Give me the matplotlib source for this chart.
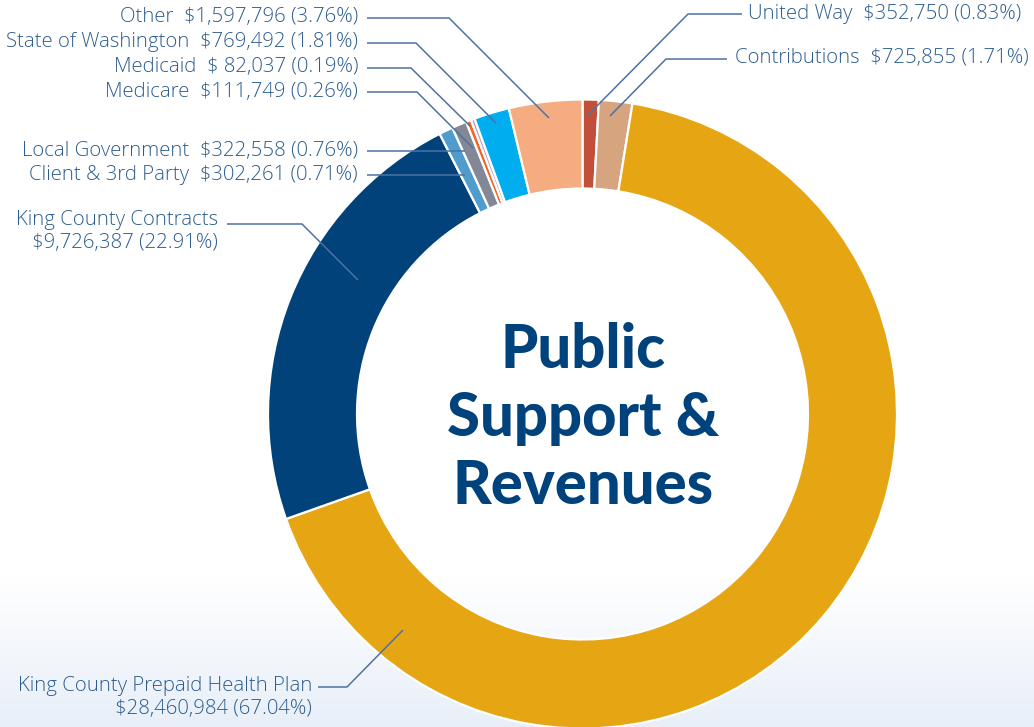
import matplotlib
matplotlib.use("Agg")
import matplotlib.pyplot as plt
import numpy as np
from matplotlib.colors import LinearSegmentedColormap

# ---- data ----
categories = ["United Way", "Contributions", "King County Prepaid Health Plan",
              "King County Contracts", "Client & 3rd Party", "Local Government",
              "Medicare", "Medicaid", "State of Washington", "Other"]
amounts = [352750, 725855, 28460984, 9726387, 302261, 322558,
           111749, 82037, 769492, 1597796]
amount_labels = ["$352,750", "$725,855", "$28,460,984", "$9,726,387", "$302,261",
                 "$322,558", "$111,749", "$ 82,037", "$769,492", "$1,597,796"]
pct_labels = ["0.83%", "1.71%", "67.04%", "22.91%", "0.71%", "0.76%",
              "0.26%", "0.19%", "1.81%", "3.76%"]
colors = ["#c24f3a", "#d6a47e", "#e6a614", "#004279", "#4f9ccd", "#828896",
          "#f26522", "#c49ac6", "#00adee", "#f4ac80"]

W, H = 1034, 727
fig = plt.figure(figsize=(W / 100, H / 100), dpi=100)
ax = fig.add_axes([0, 0, 1, 1])
ax.set_xlim(0, W)
ax.set_ylim(0, H)
ax.axis("off")

def Y(y):
    return H - y

# background gradient (white -> light blue at bottom)
ys = np.arange(H)
t = np.clip((ys - 575) / (H - 575), 0, 1)
cmap = LinearSegmentedColormap.from_list("bg", ["#ffffff", "#e8eff8"])
ax.imshow(cmap(t)[:, None, :3] * np.ones((1, 2, 1)), extent=(0, W, 0, H),
          origin="upper", aspect="auto", zorder=0)

cx, cy, R = 582.5, 414, 314.5
ax.pie(amounts, colors=colors, startangle=90, counterclock=False,
       center=(cx, Y(cy)), radius=R, frame=True,
       wedgeprops=dict(width=89, edgecolor="white", linewidth=1.6))
ax.set_xlim(0, W)
ax.set_ylim(0, H)
ax.set_aspect("equal")
ax.axis("off")

txt_color = "#2c5d90"
line_color = "#4d72a3"
font = "Open Sans"
fs = 14.7
fw = "light"

def leader(pts):
    xs = [p[0] for p in pts]
    yy = [Y(p[1]) for p in pts]
    ax.plot(xs, yy, color=line_color, lw=1.1, solid_capstyle="butt", zorder=5)

def lbl(i):
    return f"{categories[i]}  {amount_labels[i]} ({pct_labels[i]})"

def txt(x, y, s, ha):
    ax.text(x, Y(y), s, ha=ha, va="center", fontsize=fs, color=txt_color,
            family=font, fontweight=fw)

# left stacked labels
left = [(9, 17, [(367, 18), (449, 18), (549, 118)]),
        (8, 42, [(367, 43), (416, 43), (496, 123)]),
        (7, 67, [(367, 68), (411, 68), (470, 126)]),
        (6, 92, [(367, 92), (417, 92), (473, 148)]),
        (5, 151, [(367, 151), (465, 151)]),
        (4, 175, [(367, 175), (465, 175)])]
for i, y, pts in left:
    txt(358, y, lbl(i), "right")
    leader(pts)

# right labels
txt(748, 14, lbl(0), "left")
leader([(742, 14), (688, 14), (588, 115)])
txt(735, 58, lbl(1), "left")
leader([(727, 59), (666, 59), (610, 116)])

# King County Contracts
txt(218, 220, categories[3], "right")
txt(218, 243, f"{amount_labels[3]} ({pct_labels[3]})", "right")
leader([(227, 224), (302, 224), (358, 280)])

# King County Prepaid Health Plan
txt(312, 686, categories[2], "right")
txt(312, 709, f"{amount_labels[2]} ({pct_labels[2]})", "right")
leader([(318, 687), (347, 687), (403, 630)])

# center title
for s, y in [("Public", 350), ("Support &", 418), ("Revenues", 486)]:
    ax.text(583, Y(y), s, ha="center", va="center", fontsize=43,
            fontweight="black", color="#00427b", family="Lato")

fig.savefig("out.png", dpi=100)
